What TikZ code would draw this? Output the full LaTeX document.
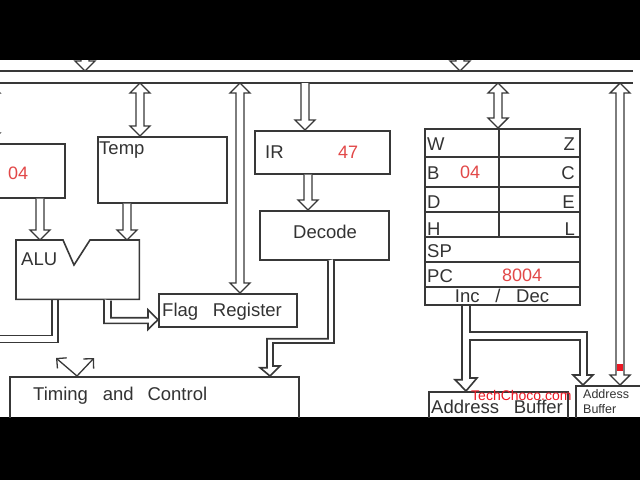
\documentclass[tikz,border=0pt]{standalone}
\usepackage{fontspec}
\setmainfont{Liberation Sans}
\usetikzlibrary{calc,arrows.meta,positioning}

\definecolor{linegray}{RGB}{56,56,56}
\definecolor{valred}{RGB}{226,72,72}
\definecolor{wmred}{RGB}{236,24,36}

\tikzset{
  box/.style={draw=linegray, line width=1.7pt, rectangle, inner sep=0pt, anchor=north west},
  wire/.style={draw=linegray, line width=1.6pt},
  bus/.style={draw=linegray, line width=1.4pt, fill=white},
  sig/.style={draw=linegray, line width=1.3pt, -{Straight Barb[length=7pt,width=14pt]}},
  lbl/.style={font=\fontsize{18.5}{20}\selectfont, text=black!80, inner sep=0pt},
  val/.style={font=\fontsize{18}{20}\selectfont, text=valred, inner sep=0pt},
  tinylbl/.style={font=\fontsize{12.5}{14}\selectfont, text=black!80, inner sep=0pt},
  wmark/.style={font=\fontsize{14}{16}\selectfont, text=wmred, inner sep=0pt},
}

% hollow bus arrow, head at the second point
\newcommand{\busto}[2]{%
  \draw[bus] let \p1=(#1), \p2=(#2), \p3=($(#2)!10pt!(#1)$) in
    (\x1-4pt,\y1) -- (\x1-4pt,\y3) -- (\x1-10pt,\y3) -- (\x2,\y2)
    -- (\x1+10pt,\y3) -- (\x1+4pt,\y3) -- (\x1+4pt,\y1);}
% hollow bus arrow, heads at both points
\newcommand{\busboth}[2]{%
  \draw[bus] let \p1=(#1), \p2=(#2), \p3=($(#1)!10pt!(#2)$), \p4=($(#2)!10pt!(#1)$) in
    (\x1,\y1) -- (\x1+10pt,\y3) -- (\x1+4pt,\y3) -- (\x1+4pt,\y4) -- (\x1+10pt,\y4)
    -- (\x2,\y2) -- (\x1-10pt,\y4) -- (\x1-4pt,\y4) -- (\x1-4pt,\y3) -- (\x1-10pt,\y3) -- cycle;}

\begin{document}
\begin{tikzpicture}[x=1pt, y=-1pt]
    % video frame
    \fill[black] (0,0) rectangle (640,480);
    \fill[white] (0,60) rectangle (640,417);
    \begin{scope}
    \clip (0,60) rectangle (640,417);

    % system bus
    \coordinate (busA) at (0,71);
    \coordinate (busB) at (0,83);
    \draw[wire] (busA) -- ++(633,0);
    \draw[wire] (busB) -- ++(633,0);

    % blocks
    \node[box, minimum width=90pt, minimum height=54pt] (acc) at (-26,143) {};
    \node[box, minimum width=129pt, minimum height=66pt] (temp) at (97,136) {};
    \node[inner sep=0pt, minimum width=123pt, minimum height=59pt, anchor=north west] (alu) at (16,240) {};
    \node[box, minimum width=138pt, minimum height=33pt] (flag) at (158,293) {};
    \node[box, minimum width=135pt, minimum height=43pt] (ir) at (254,130) {};
    \node[box, minimum width=129pt, minimum height=49pt] (decode) at (259,210) {};
    \node[box, minimum width=289pt, minimum height=60pt] (timing) at (9,376) {};
    \node[box, minimum width=155pt, minimum height=176pt] (regs) at (424,128) {};
    \node[box, minimum width=139pt, minimum height=40pt] (abuf) at (428,391) {};
    \node[box, minimum width=80pt, minimum height=40pt] (abufs) at (575,385) {};

    % ALU outline with notch
    \draw[wire] (alu.north west) -- ++(47,0) -- ++(11,25) -- ++(16,-25) -- (alu.north east)
        -- (alu.south east) -- (alu.south west) -- cycle;

    % register array
    \foreach \dy in {29,59,84,109,134,159}
        \draw[wire] ([yshift=-\dy pt]regs.north west) -- ([yshift=-\dy pt]regs.north east);
    \draw[wire] ([xshift=75pt]regs.north west) -- ++(0,109);

    % texts
    \node[val, anchor=base west] (accval) at (8,179) {04};
    \node[lbl, anchor=base west] (tempname) at (99,154) {Temp};
    \node[lbl, anchor=base west] (aluname) at (21,265) {ALU};
    \node[lbl, anchor=base west] (flagname) at (162,316) {Flag\hspace{0.8em}Register};
    \node[lbl, anchor=base west] (irname) at (265,158) {IR};
    \node[val, anchor=base west] (irval) at (338,158) {47};
    \node[lbl, anchor=base west] (decodename) at (293,238) {Decode};
    \node[lbl, anchor=base west] (timingname) at (33,400) {Timing\hspace{0.8em}and\hspace{0.75em}Control};
    \foreach \l/\r/\y in {W/Z/150, B/C/179, D/E/208, H/L/235} {
        \node[lbl, anchor=base west] (reg\l) at (427,\y) {\l};
        \node[lbl, anchor=base east] (reg\r) at (575,\y) {\r};
    }
    \node[val, anchor=base west] (bval) at (460,178) {04};
    \node[lbl, anchor=base west] (regSP) at (427,257) {SP};
    \node[lbl, anchor=base west] (regPC) at (427,282) {PC};
    \node[val, anchor=base west] (pcval) at (502,281) {8004};
    \node[lbl, anchor=base] (incdec) at (502,302) {Inc\hspace{0.85em}/\hspace{0.85em}Dec};
    \node[lbl, anchor=base west] (abufname) at (431,413) {Address\hspace{0.8em}Buffer};
    \node[tinylbl, anchor=base west] (abufsA) at (583,398) {Address};
    \node[tinylbl, anchor=base west] (abufsB) at (583,413) {Buffer};

    % bus connections
    \coordinate (topA) at (85,45);
    \coordinate (topB) at (460,45);
    \busto{topA}{topA |- busA}
    \busto{topB}{topB |- busA}
    \coordinate (accin) at ($(acc.north west)+(16,0)$);
    \busboth{accin |- busB}{accin}
    \coordinate (tempin) at ($(temp.north west)+(43,0)$);
    \busboth{tempin |- busB}{tempin}
    \coordinate (flagin) at ($(flag.north west)+(82,0)$);
    \busboth{flagin |- busB}{flagin}
    \coordinate (irin) at ($(ir.north west)+(51,0)$);
    \busto{irin |- busB}{irin}
    \coordinate (regin) at ($(regs.north west)+(74,0)$);
    \busboth{regin |- busB}{regin}
    \coordinate (abufsin) at ($(abufs.north west)+(45,0)$);
    \busboth{abufsin |- busB}{abufsin}
    \fill[wmred] (617,364) rectangle (623,371);

    % internal paths
    \coordinate (irout) at ($(ir.south west)+(54,0)$);
    \busto{irout}{irout |- decode.north}
    \coordinate (accout) at ($(acc.south west)+(66,0)$);
    \busto{accout}{accout |- alu.north}
    \coordinate (tempout) at ($(temp.south west)+(30,0)$);
    \busto{tempout}{tempout |- alu.north}

    % ALU to flags and out to the left
    \coordinate (flagtip) at ($(flag.south west)+(0,-8)$);
    \draw[wire, fill=white] ($(alu.south west)+(88,0)$) -- ++(0,24) -- ++(44,0) -- ++(0,6)
        -- (flagtip) -- ++(-10,-10) -- ++(0,8) -- ++(-37,0) -- ++(0,-17);
    \draw[wire] ($(alu.south west)+(36,0)$) -- ++(0,36) -- ++(-60,0);
    \draw[wire] ($(alu.south west)+(42,0)$) -- ++(0,43) -- ++(-66,0);

    % decode to timing and control
    \coordinate (tctip) at ($(timing.north west)+(261,0)$);
    \draw[wire, fill=white] ($(decode.south west)+(69,0)$) -- ++(0,78) -- ++(-61,0) -- ++(0,29)
        -- ++(-7,0) -- (tctip) -- ++(10,-10) -- ++(-7,0) -- ++(0,-23) -- ++(61,0) -- ++(0,-84);

    % inc/dec to the address buffers
    \coordinate (abuftip) at ($(abuf.north west)+(38,0)$);
    \coordinate (abufstip) at ($(abufs.north west)+(8,0)$);
    \draw[wire] ($(regs.south west)+(38,0)$) -- ++(0,74) -- ++(-7,0) -- (abuftip)
        -- ++(11,-13) -- ++(-7,0) -- ++(0,-38) -- ++(110,0) -- ++(0,35) -- ++(-7,0)
        -- (abufstip) -- ++(10,-10) -- ++(-6,0) -- ++(0,-43) -- ++(-117,0) -- ++(0,-28);

    % control signals
    \coordinate (tcout) at ($(timing.north west)+(68,0)$);
    \coordinate (tcleft) at ($(tcout)+(-21,-18)$);
    \coordinate (tcright) at ($(tcout)+(17,-18)$);
    \draw[sig] (tcout) -- (tcleft);
    \draw[sig] (tcout) -- (tcright);

    % watermark
    \node[wmark, anchor=base west] (watermark) at (471,400) {TechChoco.com};
    \end{scope}
\end{tikzpicture}
\end{document}
